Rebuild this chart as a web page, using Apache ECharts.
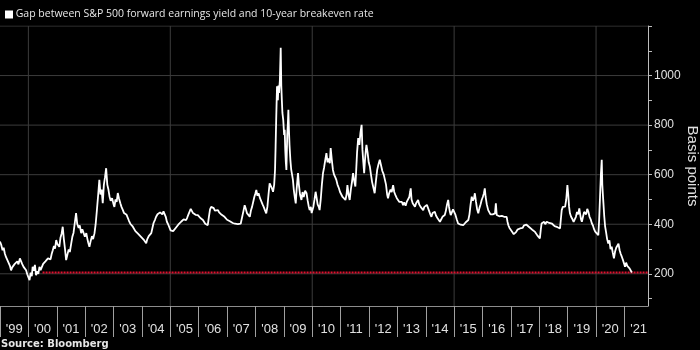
<!DOCTYPE html>
<html>
<head>
<meta charset="utf-8">
<script src="https://cdn.jsdelivr.net/npm/echarts@6/dist/echarts.min.js"></script>
<style>
  html, body { margin: 0; padding: 0; background: #000; }
  #chart { width: 700px; height: 350px; }
</style>
</head>
<body>
<div id="chart"></div>
<script>
// Gap between S&P 500 forward earnings yield and 10-year breakeven rate, basis points.
// Dates are decimal years.
const dates = [
  1999.00, 1999.04, 1999.09, 1999.13, 1999.17, 1999.21, 1999.26, 1999.30, 1999.35, 1999.39,
  1999.43, 1999.48, 1999.52, 1999.57, 1999.61, 1999.65, 1999.70, 1999.74, 1999.78, 1999.83,
  1999.87, 1999.92, 1999.96, 2000.00, 2000.04, 2000.08, 2000.12, 2000.15, 2000.19, 2000.23,
  2000.27, 2000.31, 2000.35, 2000.39, 2000.43, 2000.48, 2000.52, 2000.56, 2000.60, 2000.65,
  2000.69, 2000.74, 2000.78, 2000.82, 2000.86, 2000.90, 2000.94, 2000.98, 2001.02, 2001.05,
  2001.09, 2001.13, 2001.17, 2001.21, 2001.25, 2001.29, 2001.33, 2001.38, 2001.42, 2001.46,
  2001.51, 2001.55, 2001.59, 2001.64, 2001.68, 2001.72, 2001.77, 2001.81, 2001.86, 2001.90,
  2001.95, 2001.99, 2002.04, 2002.08, 2002.11, 2002.15, 2002.19, 2002.24, 2002.28, 2002.33,
  2002.37, 2002.41, 2002.46, 2002.50, 2002.54, 2002.58, 2002.62, 2002.66, 2002.70, 2002.74,
  2002.78, 2002.82, 2002.86, 2002.90, 2002.95, 2002.99, 2003.03, 2003.07, 2003.11, 2003.15,
  2003.19, 2003.24, 2003.28, 2003.33, 2003.37, 2003.41, 2003.46, 2003.50, 2003.54, 2003.59,
  2003.63, 2003.68, 2003.72, 2003.77, 2003.81, 2003.86, 2003.92, 2003.96, 2004.01, 2004.06,
  2004.10, 2004.15, 2004.19, 2004.24, 2004.28, 2004.33, 2004.37, 2004.41, 2004.46, 2004.50,
  2004.55, 2004.59, 2004.64, 2004.68, 2004.72, 2004.76, 2004.80, 2004.84, 2004.88, 2004.93,
  2004.97, 2005.01, 2005.06, 2005.10, 2005.15, 2005.19, 2005.24, 2005.28, 2005.33, 2005.38,
  2005.42, 2005.47, 2005.51, 2005.56, 2005.60, 2005.64, 2005.69, 2005.72, 2005.76, 2005.80,
  2005.85, 2005.89, 2005.93, 2005.97, 2006.01, 2006.06, 2006.10, 2006.15, 2006.19, 2006.23,
  2006.28, 2006.32, 2006.36, 2006.40, 2006.44, 2006.48, 2006.53, 2006.57, 2006.62, 2006.68,
  2006.72, 2006.77, 2006.81, 2006.86, 2006.91, 2006.95, 2007.00, 2007.05, 2007.10, 2007.15,
  2007.20, 2007.24, 2007.28, 2007.33, 2007.38, 2007.43, 2007.48, 2007.54, 2007.58, 2007.62,
  2007.66, 2007.70, 2007.75, 2007.80, 2007.84, 2007.88, 2007.92, 2007.96, 2008.00, 2008.03,
  2008.07, 2008.11, 2008.16, 2008.21, 2008.25, 2008.29, 2008.34, 2008.38, 2008.42, 2008.46,
  2008.50, 2008.54, 2008.58, 2008.62, 2008.66, 2008.69, 2008.71, 2008.73, 2008.76, 2008.79,
  2008.81, 2008.83, 2008.86, 2008.89, 2008.91, 2008.93, 2008.95, 2008.98, 2009.01, 2009.03,
  2009.05, 2009.07, 2009.09, 2009.12, 2009.14, 2009.16, 2009.18, 2009.20, 2009.23, 2009.26,
  2009.29, 2009.32, 2009.35, 2009.39, 2009.42, 2009.45, 2009.48, 2009.50, 2009.53, 2009.57,
  2009.62, 2009.66, 2009.70, 2009.75, 2009.80, 2009.84, 2009.88, 2009.91, 2009.95, 2009.98,
  2010.01, 2010.04, 2010.08, 2010.12, 2010.15, 2010.19, 2010.23, 2010.26, 2010.30, 2010.34,
  2010.38, 2010.42, 2010.46, 2010.50, 2010.54, 2010.58, 2010.62, 2010.65, 2010.69, 2010.73,
  2010.77, 2010.81, 2010.85, 2010.89, 2010.94, 2010.98, 2011.03, 2011.07, 2011.12, 2011.17,
  2011.21, 2011.24, 2011.28, 2011.32, 2011.36, 2011.40, 2011.44, 2011.48, 2011.52, 2011.55,
  2011.58, 2011.62, 2011.66, 2011.70, 2011.74, 2011.77, 2011.80, 2011.83, 2011.86, 2011.89,
  2011.91, 2011.95, 2011.99, 2012.03, 2012.07, 2012.11, 2012.16, 2012.20, 2012.24, 2012.29,
  2012.33, 2012.38, 2012.42, 2012.47, 2012.52, 2012.56, 2012.60, 2012.64, 2012.67, 2012.71,
  2012.76, 2012.80, 2012.85, 2012.89, 2012.94, 2012.98, 2013.03, 2013.07, 2013.11, 2013.16,
  2013.20, 2013.24, 2013.29, 2013.33, 2013.38, 2013.42, 2013.45, 2013.47, 2013.50, 2013.54,
  2013.58, 2013.62, 2013.66, 2013.69, 2013.73, 2013.77, 2013.82, 2013.86, 2013.91, 2013.95,
  2014.00, 2014.04, 2014.09, 2014.13, 2014.16, 2014.20, 2014.24, 2014.28, 2014.32, 2014.36,
  2014.41, 2014.45, 2014.50, 2014.54, 2014.59, 2014.63, 2014.67, 2014.71, 2014.75, 2014.79,
  2014.82, 2014.85, 2014.88, 2014.92, 2014.96, 2015.00, 2015.04, 2015.09, 2015.14, 2015.18,
  2015.23, 2015.27, 2015.32, 2015.36, 2015.41, 2015.45, 2015.50, 2015.54, 2015.58, 2015.62,
  2015.66, 2015.70, 2015.73, 2015.77, 2015.81, 2015.85, 2015.89, 2015.93, 2015.97, 2016.01,
  2016.05, 2016.08, 2016.11, 2016.15, 2016.20, 2016.24, 2016.28, 2016.32, 2016.36, 2016.40,
  2016.44, 2016.47, 2016.50, 2016.54, 2016.59, 2016.63, 2016.68, 2016.72, 2016.76, 2016.81,
  2016.85, 2016.88, 2016.91, 2016.95, 2016.99, 2017.03, 2017.07, 2017.10, 2017.14, 2017.18,
  2017.23, 2017.27, 2017.32, 2017.36, 2017.41, 2017.46, 2017.50, 2017.55, 2017.61, 2017.65,
  2017.70, 2017.75, 2017.80, 2017.85, 2017.89, 2017.93, 2017.98, 2018.02, 2018.05, 2018.08,
  2018.12, 2018.17, 2018.21, 2018.26, 2018.30, 2018.35, 2018.40, 2018.45, 2018.49, 2018.54,
  2018.59, 2018.64, 2018.69, 2018.73, 2018.76, 2018.79, 2018.83, 2018.87, 2018.91, 2018.95,
  2018.99, 2019.02, 2019.05, 2019.08, 2019.12, 2019.17, 2019.21, 2019.26, 2019.29, 2019.33,
  2019.37, 2019.41, 2019.44, 2019.47, 2019.50, 2019.54, 2019.58, 2019.61, 2019.65, 2019.69,
  2019.73, 2019.77, 2019.81, 2019.85, 2019.89, 2019.93, 2019.97, 2020.00, 2020.04, 2020.08,
  2020.11, 2020.14, 2020.17, 2020.20, 2020.22, 2020.24, 2020.26, 2020.29, 2020.32, 2020.35,
  2020.39, 2020.43, 2020.47, 2020.51, 2020.55, 2020.59, 2020.63, 2020.67, 2020.71, 2020.75,
  2020.79, 2020.83, 2020.87, 2020.91, 2020.95, 2020.99, 2021.02, 2021.06, 2021.10, 2021.14,
  2021.18, 2021.22, 2021.26
];
const gapBp = [
  330, 318, 295, 305, 282, 268, 276, 245, 232, 214,
  226, 218, 240, 234, 250, 238, 262, 255, 240, 228,
  236, 214, 198, 186, 174, 205, 190, 228, 212, 236,
  194, 210, 200, 228, 215, 222, 240, 234, 250, 245,
  262, 268, 258, 280, 295, 312, 302, 336, 320, 328,
  309, 345, 362, 390, 340, 300, 255, 280, 298, 288,
  323, 350, 365, 410, 445, 402, 385, 395, 364, 380,
  372, 350, 364, 340, 325, 309, 330, 352, 340, 364,
  400, 452, 520, 579, 520, 540, 485, 560, 590, 626,
  560, 540, 511, 495, 505, 485, 470, 500, 490, 526,
  505, 485, 470, 457, 445, 452, 438, 430, 415, 402,
  410, 390, 385, 372, 380, 362, 364, 350, 345, 338,
  330, 323, 340, 352, 345, 364, 385, 405, 418, 430,
  440, 436, 448, 450, 440, 452, 457, 430, 410, 398,
  390, 375, 382, 372, 369, 385, 392, 398, 404, 410,
  405, 420, 412, 417, 428, 440, 448, 462, 457, 445,
  450, 438, 442, 437, 430, 425, 420, 417, 410, 402,
  398, 396, 430, 460, 470, 462, 465, 455, 462, 457,
  448, 445, 438, 435, 430, 425, 418, 415, 412, 410,
  405, 408, 402, 404, 400, 406, 402, 410, 455, 477,
  462, 445, 440, 430, 455, 470, 490, 510, 525, 538,
  515, 525, 505, 498, 480, 470, 455, 444, 470, 520,
  565, 560, 545, 531, 560, 620, 714, 820, 957, 900,
  960, 930, 980, 1112, 960, 900, 849, 820, 760, 781,
  700, 650, 619, 760, 800, 862, 780, 720, 660, 620,
  600, 579, 540, 505, 484, 540, 580, 606, 560, 520,
  498, 530, 510, 535, 525, 495, 470, 457, 470, 445,
  437, 470, 500, 531, 510, 480, 470, 457, 500, 560,
  606, 630, 660, 687, 650, 665, 646, 707, 660, 619,
  600, 590, 579, 560, 545, 530, 525, 510, 505, 498,
  520, 558, 520, 498, 540, 570, 606, 575, 552, 620,
  690, 748, 720, 770, 801, 700, 650, 606, 660, 700,
  720, 690, 650, 633, 600, 570, 545, 525, 570, 620,
  640, 660, 640, 615, 600, 592, 560, 520, 505, 525,
  540, 530, 558, 530, 515, 505, 498, 490, 482, 490,
  477, 488, 475, 490, 484, 510, 530, 545, 500, 485,
  490, 471, 485, 480, 498, 480, 470, 465, 457, 470,
  462, 478, 471, 450, 440, 430, 445, 438, 450, 435,
  425, 420, 410, 418, 430, 425, 437, 455, 480, 498,
  470, 450, 437, 445, 460, 464, 440, 420, 403, 410,
  398, 405, 396, 402, 408, 412, 417, 440, 480, 511,
  495, 505, 525, 490, 460, 444, 465, 480, 498, 510,
  525, 545, 510, 480, 457, 450, 440, 437, 440, 435,
  444, 484, 437, 440, 432, 438, 434, 436, 430, 435,
  430, 410, 396, 385, 378, 372, 368, 360, 356, 368,
  378, 372, 383, 390, 385, 395, 388, 398, 396, 388,
  382, 378, 372, 369, 362, 355, 350, 343, 375, 403,
  398, 410, 400, 410, 402, 405, 398, 402, 396, 392,
  395, 388, 390, 383, 420, 457, 470, 462, 471, 500,
  558, 520, 470, 444, 430, 420, 410, 404, 430, 450,
  440, 464, 440, 420, 410, 430, 450, 457, 440, 462,
  450, 430, 420, 404, 395, 380, 370, 363, 372, 356,
  420, 511, 600, 660, 560, 520, 484, 430, 390, 370,
  340, 322, 335, 300, 309, 285, 262, 290, 305, 300,
  322, 295, 280, 268, 255, 240, 228, 245, 232, 234,
  222, 215, 205
];

// Latest level, carried across as a reference line
const latestLevel = 205;
const latestFrom = 2000.5;

// Axis ranges and ticks
const xMin = 1999, xMax = 2021.83;
const yearTicks = [];
for (let y = 1999; y <= 2021; y++) yearTicks.push(y);
const yearLabelPos = yearTicks.map(y => y + 0.5);
const yearGrid = [2000, 2005, 2010, 2015, 2020];
const yMin = 70, yMax = 1200;
const bpTicks = [100, 200, 300, 400, 500, 600, 700, 800, 900, 1000, 1100, 1200];
const bpLabels = [200, 400, 600, 800, 1000];
const bpGrid = [200, 400, 600, 800, 1000, 1200];

const seriesData = dates.map((d, i) => [d, gapBp[i]]);

// Faint gridlines drawn as plain line series across the plot
const gridLine = { color: '#3c3c3c', width: 1, type: 'solid' };
const hGridSeries = bpGrid.map(v => ({
  type: 'line', silent: true, symbol: 'none', z: 1,
  data: [[xMin, v], [xMax, v]],
  lineStyle: gridLine
}));
const vGridSeries = yearGrid.map(y => ({
  type: 'line', silent: true, symbol: 'none', z: 1,
  data: [[y, yMin], [y, yMax]],
  lineStyle: gridLine
}));

const chart = echarts.init(document.getElementById('chart'), null, { renderer: 'canvas' });

chart.setOption({
  backgroundColor: '#000',
  animation: false,
  title: [
    {
      text: '{box|} Gap between S&P 500 forward earnings yield and 10-year breakeven rate',
      left: 5, top: 9, padding: 0,
      textStyle: {
        color: '#e6e6e6', fontSize: 10.5, fontWeight: 'normal', fontFamily: 'Open Sans',
        rich: { box: { backgroundColor: '#fff', width: 8, height: 8 } }
      }
    },
    {
      text: 'Source: Bloomberg',
      left: 1, top: 339, padding: 0,
      textStyle: { color: '#e6e6e6', fontSize: 10, fontWeight: 'bold', fontFamily: 'DejaVu Sans' }
    }
  ],
  grid: { left: 0, right: 52, top: 26, bottom: 44, containLabel: false, outerBoundsMode: 'none' },
  xAxis: {
    type: 'value', min: xMin, max: xMax,
    axisLine: { show: true, lineStyle: { color: '#8c8c8c', width: 1 } },
    axisTick: { show: true, customValues: yearTicks, length: 31, lineStyle: { color: '#a0a0a0' } },
    axisLabel: {
      customValues: yearLabelPos, margin: 17, color: '#e0e0e0', fontSize: 13,
      fontFamily: 'Liberation Sans',
      formatter: v => "'" + String(Math.floor(v) % 100).padStart(2, '0')
    },
    splitLine: { show: false }
  },
  yAxis: {
    type: 'value', position: 'right', min: yMin, max: yMax,
    name: 'Basis points', nameLocation: 'middle', nameRotate: -90, nameGap: 37,
    nameMoveOverlap: false,
    nameTextStyle: { color: '#e0e0e0', fontSize: 15, fontFamily: 'Liberation Sans' },
    axisLine: { show: true, lineStyle: { color: '#bdbdbd', width: 1 } },
    axisTick: { show: true, inside: false, length: 4, customValues: bpTicks, lineStyle: { color: '#bdbdbd' } },
    axisLabel: {
      customValues: bpLabels, margin: 6, color: '#e0e0e0', fontSize: 12,
      fontFamily: 'Liberation Sans',
      formatter: v => String(v)
    },
    splitLine: { show: false }
  },
  series: hGridSeries.concat(vGridSeries, [
    {
      name: 'latest', type: 'line', z: 2, silent: true, symbol: 'none',
      data: [[latestFrom, latestLevel], [xMax, latestLevel]],
      lineStyle: { color: '#e0102e', width: 2, type: [2, 1] }
    },
    {
      name: 'gap', type: 'line', z: 3, symbol: 'none', showSymbol: false,
      data: seriesData,
      lineStyle: { color: '#ffffff', width: 1.8 }
    }
  ])
});
</script>
</body>
</html>
